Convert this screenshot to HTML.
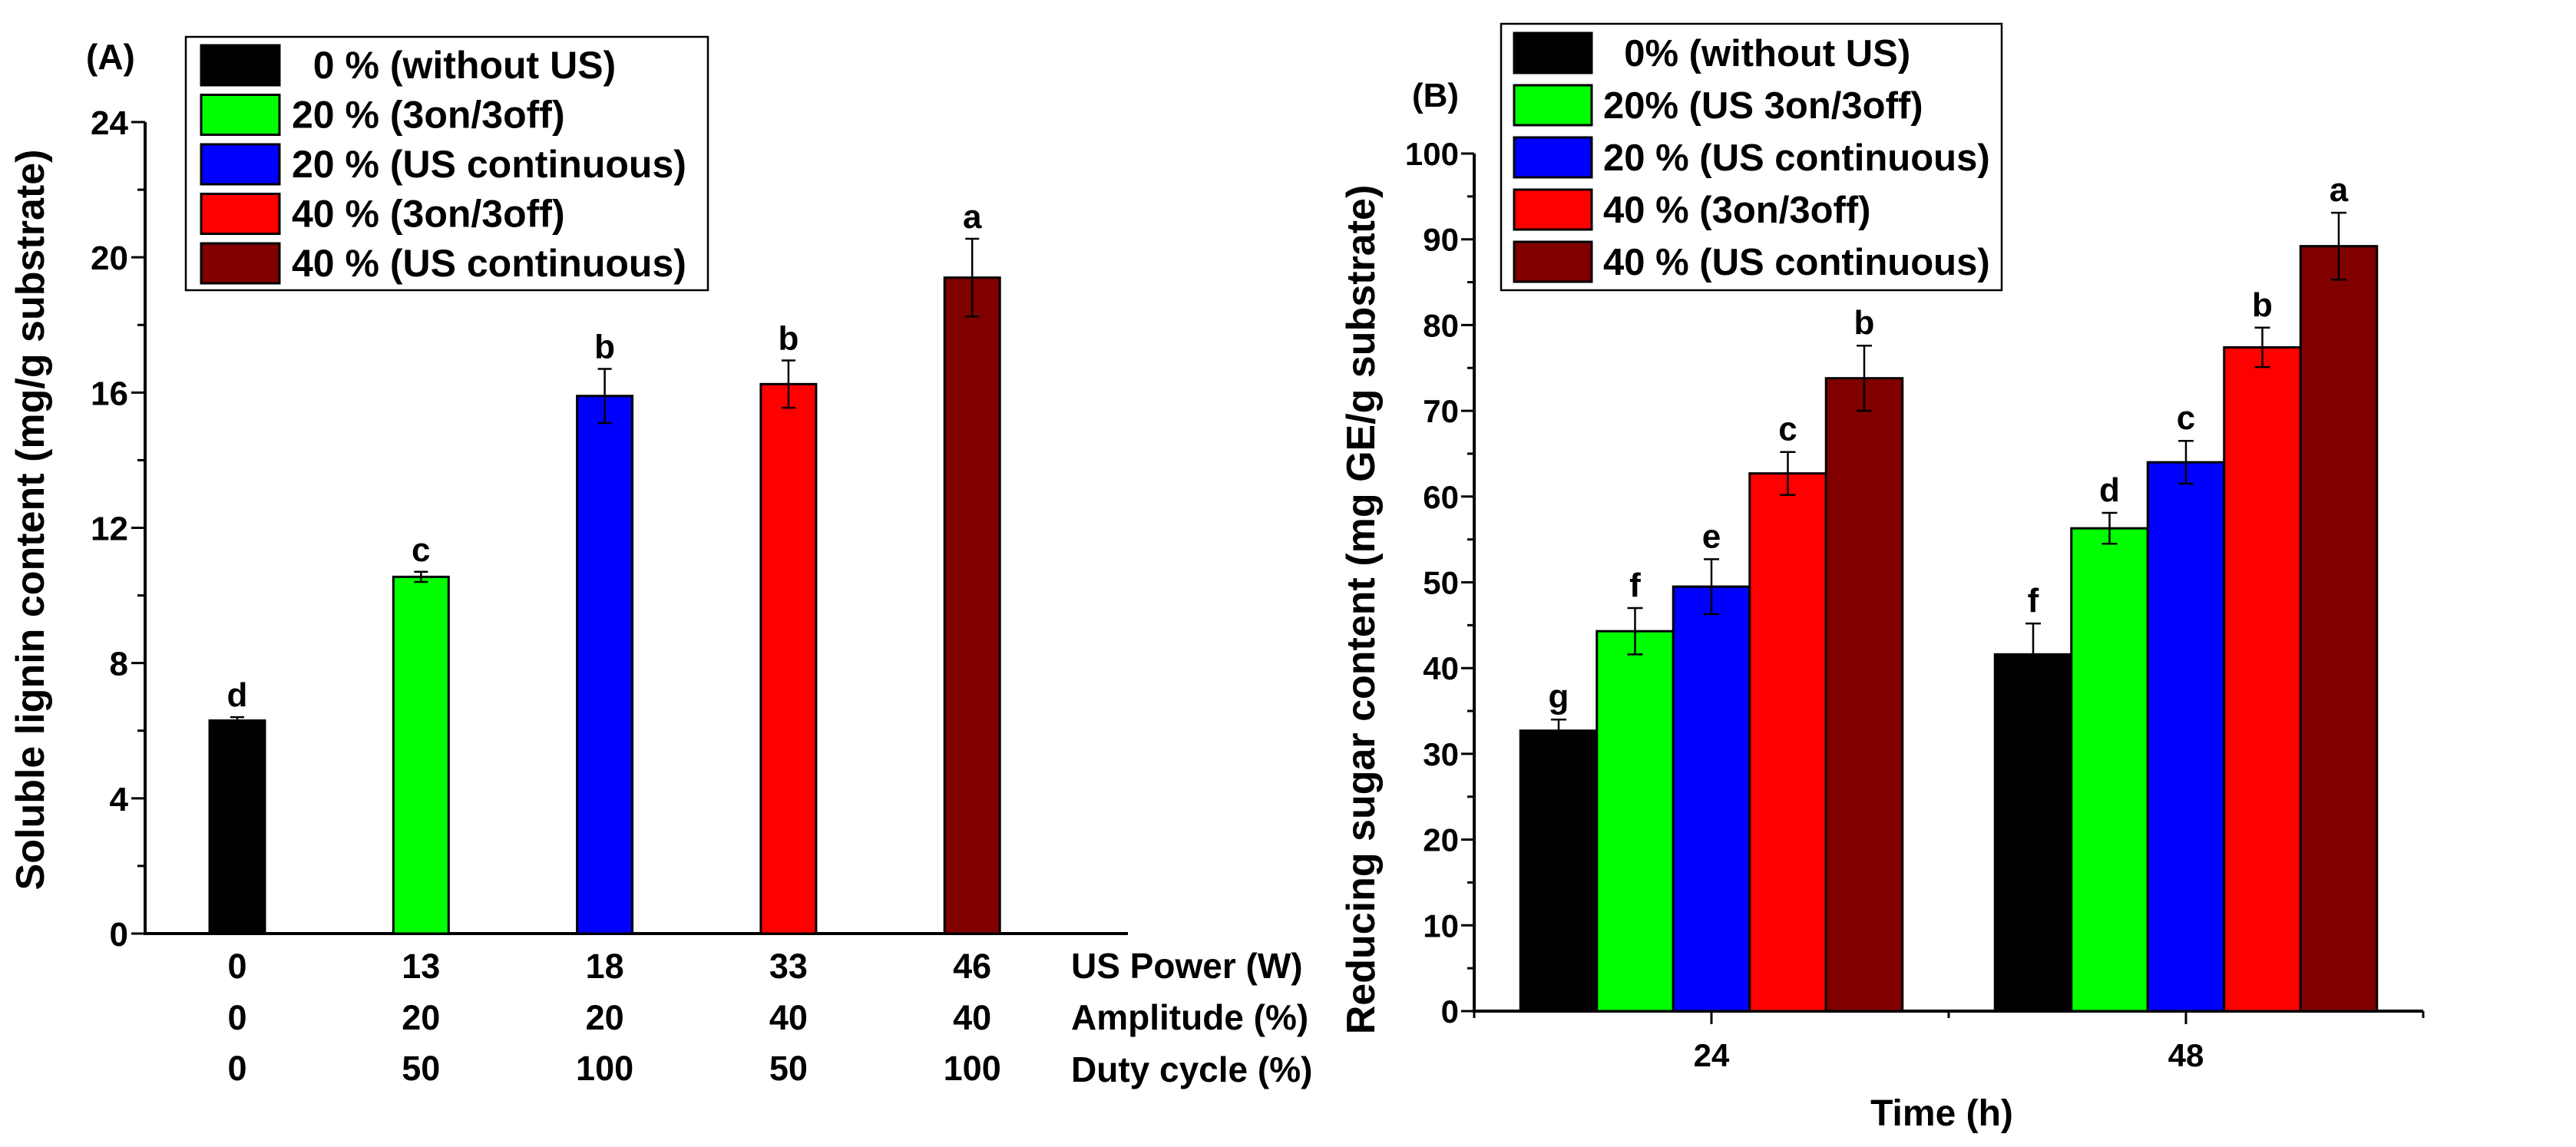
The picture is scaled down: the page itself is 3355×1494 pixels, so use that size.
<!DOCTYPE html>
<html><head><meta charset="utf-8"><style>
html,body{margin:0;padding:0;background:#fff;overflow:hidden;}
svg{display:block;font-family:"Liberation Sans",Arial,sans-serif;font-weight:bold;}
.pre{white-space:pre;}
</style></head><body>
<svg id="chart" width="3355" height="1494" xmlns="http://www.w3.org/2000/svg">
<g id="pa"></g>
<g id="pb"></g>
</svg>
<script>
const NS="http://www.w3.org/2000/svg";
const colors=["#000000","#00ff00","#0000ff","#ff0000","#800000"];
// Panel A data
const aCats=["0","13","18","33","46"];
const aAmp=["0","20","20","40","40"];
const aDuty=["0","50","100","50","100"];
const aVals=[6.3,10.55,15.9,16.25,19.4];
const aErr=[0.1,0.15,0.8,0.7,1.15];
const aLetters=["d","c","b","b","a"];
const aTicks=[0,4,8,12,16,20,24];
const aLegend=["  0 % (without US)","20 % (3on/3off)","20 % (US continuous)","40 % (3on/3off)","40 % (US continuous)"];
// Panel B data
const bGroups=["24","48"];
const bVals24=[32.7,44.3,49.5,62.7,73.8];
const bErr24=[1.3,2.7,3.2,2.5,3.8];
const bVals48=[41.6,56.3,64.0,77.4,89.2];
const bErr48=[3.6,1.8,2.5,2.3,3.9];
const bLetters24=["g","f","e","c","b"];
const bLetters48=["f","d","c","b","a"];
const bTicks=[0,10,20,30,40,50,60,70,80,90,100];
const bLegend=["  0% (without US)","20% (US 3on/3off)","20 % (US continuous)","40 % (3on/3off)","40 % (US continuous)"];

function el(p,tag,attrs,txt){const e=document.createElementNS(NS,tag);for(const k in attrs)e.setAttribute(k,attrs[k]);if(txt!==undefined)e.textContent=txt;p.appendChild(e);return e;}

// ---------- Panel A ----------
const pa=document.getElementById('pa');
const aX0=189,aY0=1216,aYmax=159,aXend=1469;
const ay=v=>aY0-(v/24)*(aY0-aYmax);
const ax=i=>309+i*239.3;
let t;
t=el(pa,'line',{x1:aX0,y1:aY0,x2:aX0,y2:aYmax,stroke:'#000','stroke-width':4});

t=el(pa,'line',{x1:aX0-2,y1:aY0,x2:aXend,y2:aY0,stroke:'#000','stroke-width':4});

for(let v=0;v<=24;v+=2){const major=v%4===0;el(pa,'line',{x1:aX0-(major?18:10),y1:ay(v),x2:aX0,y2:ay(v),stroke:'#000','stroke-width':3});}
aTicks.forEach(v=>{t=el(pa,'text',{x:aX0-22,y:ay(v)+16,'text-anchor':'end','font-size':44},String(v));
});
aVals.forEach((v,i)=>{const w=72;
 t=el(pa,'rect',{x:ax(i)-w/2,y:ay(v),width:w,height:aY0-ay(v),fill:colors[i],stroke:'#000','stroke-width':3});
 
 const hi=ay(v+aErr[i]),lo=ay(v-aErr[i]);
 el(pa,'line',{x1:ax(i),y1:hi,x2:ax(i),y2:lo,stroke:'#000','stroke-width':2.5});
 el(pa,'line',{x1:ax(i)-9,y1:hi,x2:ax(i)+9,y2:hi,stroke:'#000','stroke-width':2.5});
 el(pa,'line',{x1:ax(i)-9,y1:lo,x2:ax(i)+9,y2:lo,stroke:'#000','stroke-width':2.5});
 t=el(pa,'text',{x:ax(i),y:hi-14,'text-anchor':'middle','font-size':44},aLetters[i]);
 
 t=el(pa,'text',{x:ax(i),y:1274,'text-anchor':'middle','font-size':45},aCats[i]);
 
 t=el(pa,'text',{x:ax(i),y:1341,'text-anchor':'middle','font-size':45},aAmp[i]);
 
 t=el(pa,'text',{x:ax(i),y:1407,'text-anchor':'middle','font-size':45},aDuty[i]);
 
});
[["US Power (W)",1274],["Amplitude (%)",1341],["Duty cycle (%)",1409]].forEach(r=>{
 t=el(pa,'text',{x:1395,y:r[1],'font-size':46},r[0]);
 });
t=el(pa,'text',{x:0,y:0,'text-anchor':'middle','font-size':52,transform:'translate(57,677) rotate(-90)'},'Soluble lignin content (mg/g substrate)');

t=el(pa,'text',{x:112,y:90,'font-size':46},'(A)');

t=el(pa,'rect',{x:242,y:48,width:680,height:330,fill:'#fff',stroke:'#000','stroke-width':2.5});

aLegend.forEach((s,i)=>{const yy=59+i*64.5;
 el(pa,'rect',{x:262,y:yy,width:102,height:52,fill:colors[i],stroke:'#000','stroke-width':3});
 t=el(pa,'text',{x:380,y:yy+43,'font-size':50,'class':'pre'},s);
 });

// ---------- Panel B ----------
const pb=document.getElementById('pb');
const bX0=1920,bY0=1317,bYmax=200,bXend=3156;
const by=v=>bY0-(v/100)*(bY0-bYmax);
const gc=[2229,2847];
const bw=99.5;
t=el(pb,'line',{x1:bX0,y1:bY0,x2:bX0,y2:bYmax,stroke:'#000','stroke-width':4});

t=el(pb,'line',{x1:bX0-2,y1:bY0,x2:bXend,y2:bY0,stroke:'#000','stroke-width':4});

for(let v=0;v<=100;v+=5){const major=v%10===0;el(pb,'line',{x1:bX0-(major?17:9),y1:by(v),x2:bX0,y2:by(v),stroke:'#000','stroke-width':3});}
[bX0,2229,2538,2847,bXend].forEach((x,k)=>el(pb,'line',{x1:x,y1:bY0,x2:x,y2:bY0+(k%2===1?17:9),stroke:'#000','stroke-width':3}));
bTicks.forEach(v=>{t=el(pb,'text',{x:bX0-20,y:by(v)+15,'text-anchor':'end','font-size':42},String(v));
});
[[bVals24,bErr24,bLetters24],[bVals48,bErr48,bLetters48]].forEach((g,gi)=>{
 g[0].forEach((v,i)=>{const cx=gc[gi]+(i-2)*bw;
  t=el(pb,'rect',{x:cx-bw/2,y:by(v),width:bw,height:bY0-by(v),fill:colors[i],stroke:'#000','stroke-width':3});
  
  const hi=by(v+g[1][i]),lo=by(v-g[1][i]);
  el(pb,'line',{x1:cx,y1:hi,x2:cx,y2:lo,stroke:'#000','stroke-width':2.5});
  el(pb,'line',{x1:cx-10,y1:hi,x2:cx+10,y2:hi,stroke:'#000','stroke-width':2.5});
  el(pb,'line',{x1:cx-10,y1:lo,x2:cx+10,y2:lo,stroke:'#000','stroke-width':2.5});
  t=el(pb,'text',{x:cx,y:hi-15,'text-anchor':'middle','font-size':44},g[2][i]);
  
 });
 t=el(pb,'text',{x:gc[gi],y:1389,'text-anchor':'middle','font-size':42},bGroups[gi]);
 
});
t=el(pb,'text',{x:2529,y:1466,'text-anchor':'middle','font-size':48},'Time (h)');

t=el(pb,'text',{x:0,y:0,'text-anchor':'middle','font-size':52,transform:'translate(1790,794) rotate(-90)'},'Reducing sugar content (mg GE/g substrate)');

t=el(pb,'text',{x:1839,y:139,'font-size':44},'(B)');

t=el(pb,'rect',{x:1955,y:31,width:652,height:347,fill:'#fff',stroke:'#000','stroke-width':2.5});

bLegend.forEach((s,i)=>{const yy=43+i*68;
 el(pb,'rect',{x:1972,y:yy,width:101,height:52,fill:colors[i],stroke:'#000','stroke-width':3});
 t=el(pb,'text',{x:2088,y:yy+43,'font-size':49,'class':'pre'},s);
 });
</script>
</body></html>
